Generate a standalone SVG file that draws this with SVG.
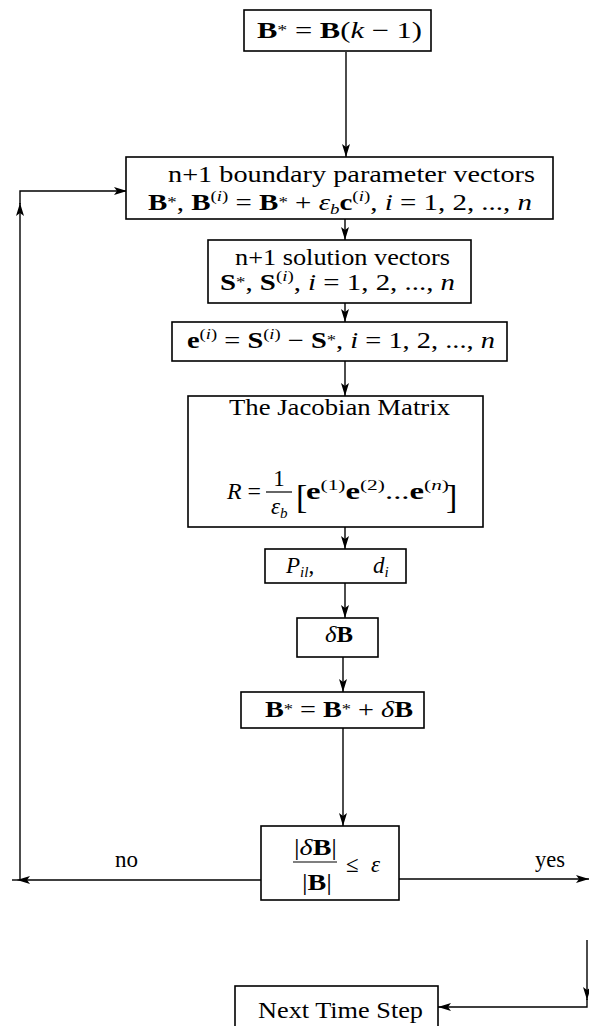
<svg xmlns="http://www.w3.org/2000/svg" width="589" height="1026" viewBox="0 0 589 1026">
<defs>
<style>
.box{fill:#fff;stroke:#000;stroke-width:1.6}
.ln{fill:none;stroke:#000;stroke-width:1.4}
.t{font-family:"Liberation Serif","Times New Roman",serif;font-size:23px;fill:#000}
.b{font-weight:bold}
.i{font-style:italic}
.sp{font-size:15px}
.big{font-size:34px}
</style>
<marker id="ah" markerUnits="userSpaceOnUse" markerWidth="13" markerHeight="8" refX="13" refY="4" orient="auto">
<path d="M0,0 L13,4 L0,8 L3,4 z" fill="#000"/>
</marker>
</defs>
<rect width="589" height="1026" fill="#fff"/>

<g id="connectors">
<line class="ln" x1="346" y1="52" x2="346" y2="157" marker-end="url(#ah)"/>
<line class="ln" x1="345" y1="219" x2="345" y2="240" marker-end="url(#ah)"/>
<line class="ln" x1="345" y1="303" x2="345" y2="322" marker-end="url(#ah)"/>
<line class="ln" x1="345" y1="361" x2="345" y2="396" marker-end="url(#ah)"/>
<line class="ln" x1="345" y1="527" x2="345" y2="549" marker-end="url(#ah)"/>
<line class="ln" x1="345" y1="583" x2="345" y2="618" marker-end="url(#ah)"/>
<line class="ln" x1="343" y1="657" x2="343" y2="692" marker-end="url(#ah)"/>
<line class="ln" x1="343" y1="728" x2="343" y2="826" marker-end="url(#ah)"/>
<line class="ln" x1="261" y1="880" x2="17" y2="880" marker-end="url(#ah)"/>
<line class="ln" x1="17" y1="880" x2="12" y2="880"/>
<line class="ln" x1="20" y1="880" x2="20" y2="203" marker-end="url(#ah)"/>
<polyline class="ln" points="20,204 20,191 127,191" marker-end="url(#ah)"/>
<line class="ln" x1="399" y1="879" x2="589" y2="879" marker-end="url(#ah)"/>
<line class="ln" x1="587" y1="940" x2="587" y2="1000" marker-end="url(#ah)"/>
<polyline class="ln" points="587,999 587,1007 438,1007" marker-end="url(#ah)"/>
</g>

<g id="n1">
<rect class="box" x="244" y="10" width="187" height="41"/>
<text class="t" x="257" y="38" textLength="165" lengthAdjust="spacingAndGlyphs"><tspan class="b">B</tspan><tspan class="sp" dy="-3">*</tspan><tspan dy="3"> = </tspan><tspan class="b">B</tspan>(<tspan class="i">k</tspan> − 1)</text>
</g>

<g id="n2">
<rect class="box" x="126" y="157" width="427" height="62"/>
<text class="t" x="168" y="182" textLength="367" lengthAdjust="spacingAndGlyphs">n+1 boundary parameter vectors</text>
<text class="t" x="148" y="210" textLength="384" lengthAdjust="spacingAndGlyphs"><tspan class="b">B</tspan><tspan class="sp" dy="-3">*</tspan><tspan dy="3">, </tspan><tspan class="b">B</tspan><tspan class="sp" dy="-9">(</tspan><tspan class="sp i">i</tspan><tspan class="sp">)</tspan><tspan dy="9"> = </tspan><tspan class="b">B</tspan><tspan class="sp" dy="-3">*</tspan><tspan dy="3"> + </tspan><tspan class="i">ε</tspan><tspan class="sp i" dy="4">b</tspan><tspan class="b" dy="-4">c</tspan><tspan class="sp" dy="-9">(</tspan><tspan class="sp i">i</tspan><tspan class="sp">)</tspan><tspan dy="9">, </tspan><tspan class="i">i</tspan> = 1, 2, ..., <tspan class="i">n</tspan></text>
</g>

<g id="n3">
<rect class="box" x="208" y="240" width="263" height="63"/>
<text class="t" x="235" y="265" textLength="215" lengthAdjust="spacingAndGlyphs">n+1 solution vectors</text>
<text class="t" x="220" y="290" textLength="235" lengthAdjust="spacingAndGlyphs"><tspan class="b">S</tspan><tspan class="sp" dy="-3">*</tspan><tspan dy="3">, </tspan><tspan class="b">S</tspan><tspan class="sp" dy="-9">(</tspan><tspan class="sp i">i</tspan><tspan class="sp">)</tspan><tspan dy="9">,  </tspan><tspan class="i">i</tspan> = 1, 2, ..., <tspan class="i">n</tspan></text>
</g>

<g id="n4">
<rect class="box" x="172" y="322" width="335" height="39"/>
<text class="t" x="187" y="348" textLength="308" lengthAdjust="spacingAndGlyphs"><tspan class="b">e</tspan><tspan class="sp" dy="-9">(</tspan><tspan class="sp i">i</tspan><tspan class="sp">)</tspan><tspan dy="9"> = </tspan><tspan class="b">S</tspan><tspan class="sp" dy="-9">(</tspan><tspan class="sp i">i</tspan><tspan class="sp">)</tspan><tspan dy="9"> − </tspan><tspan class="b">S</tspan><tspan class="sp" dy="-3">*</tspan><tspan dy="3">, </tspan><tspan class="i">i</tspan> = 1, 2, ..., <tspan class="i">n</tspan></text>
</g>

<g id="n5">
<rect class="box" x="188" y="396" width="295" height="131"/>
<text class="t" x="229" y="415" textLength="221" lengthAdjust="spacingAndGlyphs">The Jacobian Matrix</text>
<text class="t" x="227" y="499" textLength="34" lengthAdjust="spacingAndGlyphs"><tspan class="i">R</tspan> =</text>
<line x1="266" y1="492" x2="292" y2="492" stroke="#000" stroke-width="1.2"/>
<text class="t" x="279" y="486" text-anchor="middle">1</text>
<text class="t" x="271" y="514"><tspan class="i">ε</tspan><tspan class="sp i" dy="4">b</tspan></text>
<text class="t big" x="296" y="508">[</text>
<text class="t" x="306" y="499" textLength="143" lengthAdjust="spacingAndGlyphs"><tspan class="b">e</tspan><tspan class="sp" dy="-9">(1)</tspan><tspan class="b" dy="9">e</tspan><tspan class="sp" dy="-9">(2)</tspan><tspan dy="9">...</tspan><tspan class="b">e</tspan><tspan class="sp" dy="-9">(</tspan><tspan class="sp i">n</tspan><tspan class="sp">)</tspan></text>
<text class="t big" x="446" y="508">]</text>
</g>

<g id="n6">
<rect class="box" x="265" y="549" width="141" height="34"/>
<text class="t" x="286" y="573"><tspan class="i">P</tspan><tspan class="sp i" dy="4">il</tspan><tspan dy="-4">,</tspan></text>
<text class="t" x="373" y="573"><tspan class="i">d</tspan><tspan class="sp i" dy="4">i</tspan></text>
</g>

<g id="n7">
<rect class="box" x="297" y="618" width="81" height="39"/>
<text class="t" x="325" y="642" textLength="28" lengthAdjust="spacingAndGlyphs"><tspan class="i">δ</tspan><tspan class="b">B</tspan></text>
</g>

<g id="n8">
<rect class="box" x="241" y="692" width="183" height="36"/>
<text class="t" x="265" y="717" textLength="148" lengthAdjust="spacingAndGlyphs"><tspan class="b">B</tspan><tspan class="sp" dy="-3">*</tspan><tspan dy="3"> = </tspan><tspan class="b">B</tspan><tspan class="sp" dy="-3">*</tspan><tspan dy="3"> + </tspan><tspan class="i">δ</tspan><tspan class="b">B</tspan></text>
</g>

<g id="n9">
<rect class="box" x="261" y="826" width="138" height="74"/>
<text class="t" x="294" y="855" textLength="43" lengthAdjust="spacingAndGlyphs">|<tspan class="i">δ</tspan><tspan class="b">B</tspan>|</text>
<line x1="293" y1="862" x2="337" y2="862" stroke="#000" stroke-width="1.2"/>
<text class="t" x="302" y="890" textLength="30" lengthAdjust="spacingAndGlyphs">|<tspan class="b">B</tspan>|</text>
<text class="t" x="346" y="872">≤</text>
<text class="t i" x="371" y="872">ε</text>
</g>

<g id="labels">
<text class="t" x="115" y="867" textLength="23" lengthAdjust="spacingAndGlyphs">no</text>
<text class="t" x="535" y="867" textLength="30" lengthAdjust="spacingAndGlyphs">yes</text>
</g>

<g id="n10">
<rect class="box" x="235" y="986" width="203" height="50"/>
<text class="t" x="258" y="1018" textLength="165" lengthAdjust="spacingAndGlyphs">Next Time Step</text>
</g>
</svg>
